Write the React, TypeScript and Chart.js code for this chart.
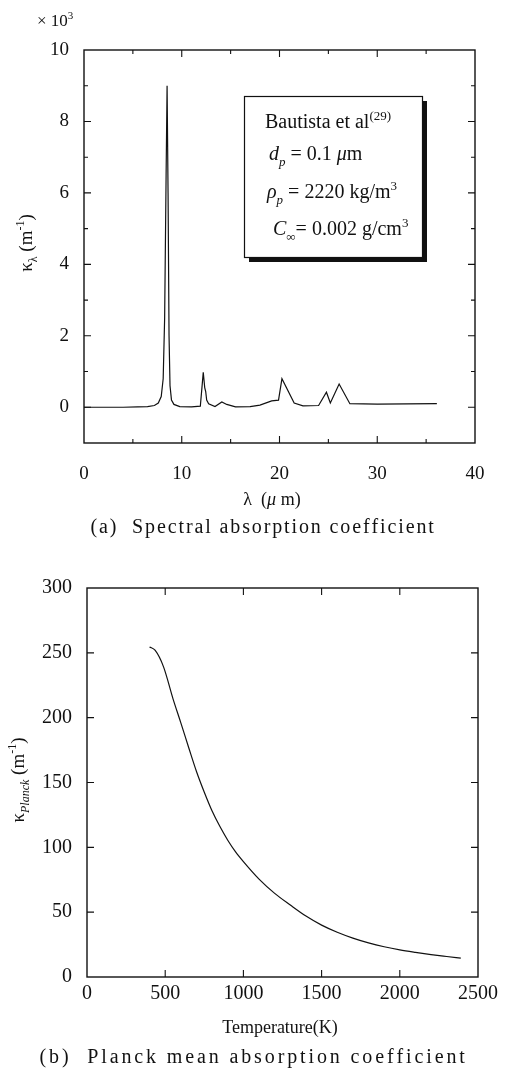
import React, { useEffect, useRef } from 'react';
import { Chart, registerables } from 'chart.js';

Chart.register(...registerables);

// ---------- (a) Spectral absorption coefficient ----------
const lambdaUm = [0, 2, 4, 5.5, 6.5, 7.2, 7.6, 7.9, 8.1, 8.25, 8.4, 8.5, 8.6, 8.7, 8.8, 8.95, 9.2, 9.8, 11.0, 11.9, 12.05, 12.2, 12.35, 12.45, 12.55, 12.75, 13.4, 14.1, 14.6, 15.5, 17.0, 18.0, 19.2, 19.9, 20.25, 21.5, 22.4, 24.0, 24.8, 25.2, 26.1, 27.2, 30.0, 36.1];
const kappaLambda = [0, 0, 0, 0.01, 0.02, 0.05, 0.12, 0.3, 0.8, 2.5, 6.5, 9.0, 6.0, 2.0, 0.6, 0.2, 0.08, 0.02, 0.01, 0.03, 0.5, 0.98, 0.55, 0.44, 0.2, 0.1, 0.02, 0.15, 0.08, 0.01, 0.02, 0.06, 0.18, 0.2, 0.8, 0.12, 0.04, 0.05, 0.42, 0.12, 0.65, 0.1, 0.09, 0.1];
const xLabelsA = [0, 10, 20, 30, 40];
const yLabelsA = [0, 2, 4, 6, 8, 10];
const xMarksA = [5, 10, 15, 20, 25, 30, 35];
const yMarksA = [0, 1, 2, 3, 4, 5, 6, 7, 8, 9];

// ---------- (b) Planck mean absorption coefficient ----------
const temperatureK = [400, 435, 490, 550, 600, 650, 700, 750, 800, 850, 900, 950, 1000, 1100, 1200, 1300, 1400, 1500, 1600, 1700, 1800, 1900, 2000, 2100, 2200, 2300, 2390];
const kappaPlanck = [254.5, 252, 239, 214.5, 196, 177, 158.5, 142.5, 128, 116, 105.5, 96.5, 89, 75.5, 64.5, 55.5, 47, 40, 34.5, 30, 26.3, 23.3, 20.9, 19, 17.3, 15.8, 14.5];
const xLabelsB = [0, 500, 1000, 1500, 2000, 2500];
const yLabelsB = [0, 50, 100, 150, 200, 250, 300];
const xMarksB = [500, 1000, 1500, 2000];
const yMarksB = [50, 100, 150, 200, 250];

const INK = '#111111';
const SERIF = '"Liberation Serif", "Times New Roman", serif';

type Run = { t: string; it?: boolean; sub?: boolean; sup?: boolean };

function drawRuns(ctx: CanvasRenderingContext2D, runs: Run[], x: number, y: number, size: number, align: 'left' | 'center') {
  const fontFor = (r: Run) => `${r.it ? 'italic ' : ''}${r.sub || r.sup ? Math.round(size * 0.65) : size}px ${SERIF}`;
  let w = 0;
  runs.forEach((r) => { ctx.font = fontFor(r); w += ctx.measureText(r.t).width; });
  let cx = align === 'center' ? x - w / 2 : x;
  ctx.textAlign = 'left';
  ctx.textBaseline = 'alphabetic';
  runs.forEach((r) => {
    ctx.font = fontFor(r);
    const dy = r.sub ? size * 0.28 : r.sup ? -size * 0.42 : 0;
    ctx.fillText(r.t, cx, y + dy);
    cx += ctx.measureText(r.t).width;
  });
}

function drawSpaced(ctx: CanvasRenderingContext2D, text: string, cx: number, y: number, size: number, target: number) {
  ctx.font = `${size}px ${SERIF}`;
  const w0 = ctx.measureText(text).width;
  const ls = Math.max(0, (target - w0) / (text.length - 1));
  ctx.textAlign = 'left';
  ctx.textBaseline = 'alphabetic';
  let x = cx - target / 2;
  for (const ch of text) {
    ctx.fillText(ch, x, y);
    x += ctx.measureText(ch).width + ls;
  }
}

function frameTicks(spec: { xMarks: number[]; yMarks: number[]; xMajor: (v: number) => boolean; yMajor: (v: number) => boolean; major: number; minor: number }) {
  return {
    id: 'frameTicks',
    afterDatasetsDraw(chart: any) {
      const { ctx, chartArea: a } = chart;
      const xs = chart.scales.x;
      const ys = chart.scales.y;
      ctx.save();
      ctx.strokeStyle = INK;
      ctx.lineWidth = 1.4;
      ctx.strokeRect(a.left, a.top, a.right - a.left, a.bottom - a.top);
      ctx.lineWidth = 1.1;
      ctx.beginPath();
      spec.xMarks.forEach((v) => {
        const p = xs.getPixelForValue(v);
        const L = spec.xMajor(v) ? spec.major : spec.minor;
        ctx.moveTo(p, a.bottom); ctx.lineTo(p, a.bottom - L);
        ctx.moveTo(p, a.top); ctx.lineTo(p, a.top + L);
      });
      spec.yMarks.forEach((v) => {
        const p = ys.getPixelForValue(v);
        const L = spec.yMajor(v) ? spec.major : spec.minor;
        ctx.moveTo(a.left, p); ctx.lineTo(a.left + L, p);
        ctx.moveTo(a.right, p); ctx.lineTo(a.right - L, p);
      });
      ctx.stroke();
      ctx.restore();
    },
  };
}

function buildOptions(o: { xMin: number; xMax: number; yMin: number; yMax: number; xLabels: number[]; yLabels: number[]; padTop: number; padRight: number; xHeight: number; yWidth: number; xPad: number; yPad: number; fontSize: number }) {
  const tickFont = { family: SERIF, size: o.fontSize };
  return {
    responsive: false,
    animation: false,
    devicePixelRatio: 1,
    layout: { padding: { top: o.padTop, right: o.padRight, left: 0, bottom: 0 } },
    plugins: { legend: { display: false }, tooltip: { enabled: false }, title: { display: false } },
    scales: {
      x: {
        type: 'linear', min: o.xMin, max: o.xMax,
        grid: { display: false, drawTicks: false }, border: { display: false },
        ticks: { font: tickFont, color: INK, padding: o.xPad, maxRotation: 0, autoSkip: false, callback: (v: any) => String(v) },
        afterBuildTicks: (s: any) => { s.ticks = o.xLabels.map((v) => ({ value: v })); },
        afterFit: (s: any) => { s.height = o.xHeight; },
      },
      y: {
        type: 'linear', min: o.yMin, max: o.yMax,
        grid: { display: false, drawTicks: false }, border: { display: false },
        ticks: { font: tickFont, color: INK, padding: o.yPad, autoSkip: false, callback: (v: any) => String(v) },
        afterBuildTicks: (s: any) => { s.ticks = o.yLabels.map((v) => ({ value: v })); },
        afterFit: (s: any) => { s.width = o.yWidth; },
      },
    },
  };
}

const textsA = {
  id: 'textsA',
  afterDraw(chart: any) {
    const ctx: CanvasRenderingContext2D = chart.ctx;
    const a = chart.chartArea;
    ctx.save();
    ctx.fillStyle = INK;
    ctx.strokeStyle = INK;
    // multiplier
    drawRuns(ctx, [{ t: '× 10' }, { t: '3', sup: true }], 37, 26, 17, 'left');
    // y title
    ctx.save();
    ctx.translate(26, 243);
    ctx.rotate(-Math.PI / 2);
    drawRuns(ctx, [{ t: 'κ' }, { t: 'λ', sub: true }, { t: ' (m' }, { t: '-1', sup: true }, { t: ')' }], 0, 6, 19, 'center');
    ctx.restore();
    // x title
    drawRuns(ctx, [{ t: 'λ' }, { t: '  (' }, { t: 'μ', it: true }, { t: ' m)' }], 272, 505, 18, 'center');
    // caption
    drawSpaced(ctx, '(a)  Spectral absorption coefficient', 262, 533, 20, 343);
    // annotation box
    const bx = a.left + 160, by = a.top + 46, bw = 178, bh = 161;
    ctx.fillStyle = INK;
    ctx.fillRect(bx + 5, by + 5, bw, bh);
    ctx.fillStyle = '#ffffff';
    ctx.fillRect(bx, by, bw, bh);
    ctx.lineWidth = 1.2;
    ctx.strokeRect(bx + 0.5, by + 0.5, bw, bh);
    ctx.fillStyle = INK;
    drawRuns(ctx, [{ t: 'Bautista et al' }, { t: '(29)', sup: true }], bx + 21, by + 32, 20, 'left');
    drawRuns(ctx, [{ t: 'd', it: true }, { t: 'p', it: true, sub: true }, { t: ' = 0.1 ' }, { t: 'μ', it: true }, { t: 'm' }], bx + 25, by + 64, 20, 'left');
    drawRuns(ctx, [{ t: 'ρ', it: true }, { t: 'p', it: true, sub: true }, { t: ' = 2220 kg/m' }, { t: '3', sup: true }], bx + 23, by + 102, 20, 'left');
    drawRuns(ctx, [{ t: 'C', it: true }, { t: '∞', sub: true }, { t: '= 0.002 g/cm' }, { t: '3', sup: true }], bx + 29, by + 139, 20, 'left');
    ctx.restore();
  },
};

const textsB = {
  id: 'textsB',
  afterDraw(chart: any) {
    const ctx: CanvasRenderingContext2D = chart.ctx;
    ctx.save();
    ctx.fillStyle = INK;
    ctx.save();
    ctx.translate(18, 235);
    ctx.rotate(-Math.PI / 2);
    drawRuns(ctx, [{ t: 'κ' }, { t: 'Planck', it: true, sub: true }, { t: ' (m' }, { t: '-1', sup: true }, { t: ')' }], 0, 6, 19, 'center');
    ctx.restore();
    drawRuns(ctx, [{ t: 'Temperature(K)' }], 280, 488, 18, 'center');
    drawSpaced(ctx, '(b)  Planck mean absorption coefficient', 252, 518, 20, 425);
    ctx.restore();
  },
};

function useChart(ref: React.RefObject<HTMLCanvasElement>, make: (c: HTMLCanvasElement) => Chart) {
  useEffect(() => {
    if (!ref.current) return;
    const chart = make(ref.current);
    return () => chart.destroy();
  }, []);
}

export default function App() {
  const refA = useRef<HTMLCanvasElement>(null);
  const refB = useRef<HTMLCanvasElement>(null);

  useChart(refA, (c) => new Chart(c, {
    type: 'line',
    data: {
      datasets: [{
        data: lambdaUm.map((x, i) => ({ x, y: kappaLambda[i] })),
        borderColor: INK, borderWidth: 1.2, pointRadius: 0, tension: 0, fill: false,
      }],
    },
    options: buildOptions({ xMin: 0, xMax: 40, yMin: -1, yMax: 10, xLabels: xLabelsA, yLabels: yLabelsA, padTop: 50, padRight: 30, xHeight: 102, yWidth: 84, xPad: 20, yPad: 15, fontSize: 19 }) as any,
    plugins: [frameTicks({ xMarks: xMarksA, yMarks: yMarksA, xMajor: (v) => v % 10 === 0, yMajor: (v) => v % 2 === 0, major: 7, minor: 4 }), textsA],
  }));

  useChart(refB, (c) => new Chart(c, {
    type: 'line',
    data: {
      datasets: [{
        data: temperatureK.map((x, i) => ({ x, y: kappaPlanck[i] })),
        borderColor: INK, borderWidth: 1.2, pointRadius: 0, cubicInterpolationMode: 'monotone', fill: false,
      }],
    },
    options: buildOptions({ xMin: 0, xMax: 2500, yMin: 0, yMax: 300, xLabels: xLabelsB, yLabels: yLabelsB, padTop: 43, padRight: 27, xHeight: 113, yWidth: 87, xPad: 5, yPad: 15, fontSize: 20 }) as any,
    plugins: [frameTicks({ xMarks: xMarksB, yMarks: yMarksB, xMajor: () => true, yMajor: () => true, major: 7, minor: 7 }), textsB],
  }));

  return (
    <div style={{ position: 'absolute', left: 0, top: 0, width: 505, height: 1090, background: '#ffffff' }}>
      <canvas ref={refA} width={505} height={545} style={{ position: 'absolute', left: 0, top: 545 * 0, width: 505, height: 545 }} />
      <canvas ref={refB} width={505} height={545} style={{ position: 'absolute', left: 0, top: 545, width: 505, height: 545 }} />
    </div>
  );
}
